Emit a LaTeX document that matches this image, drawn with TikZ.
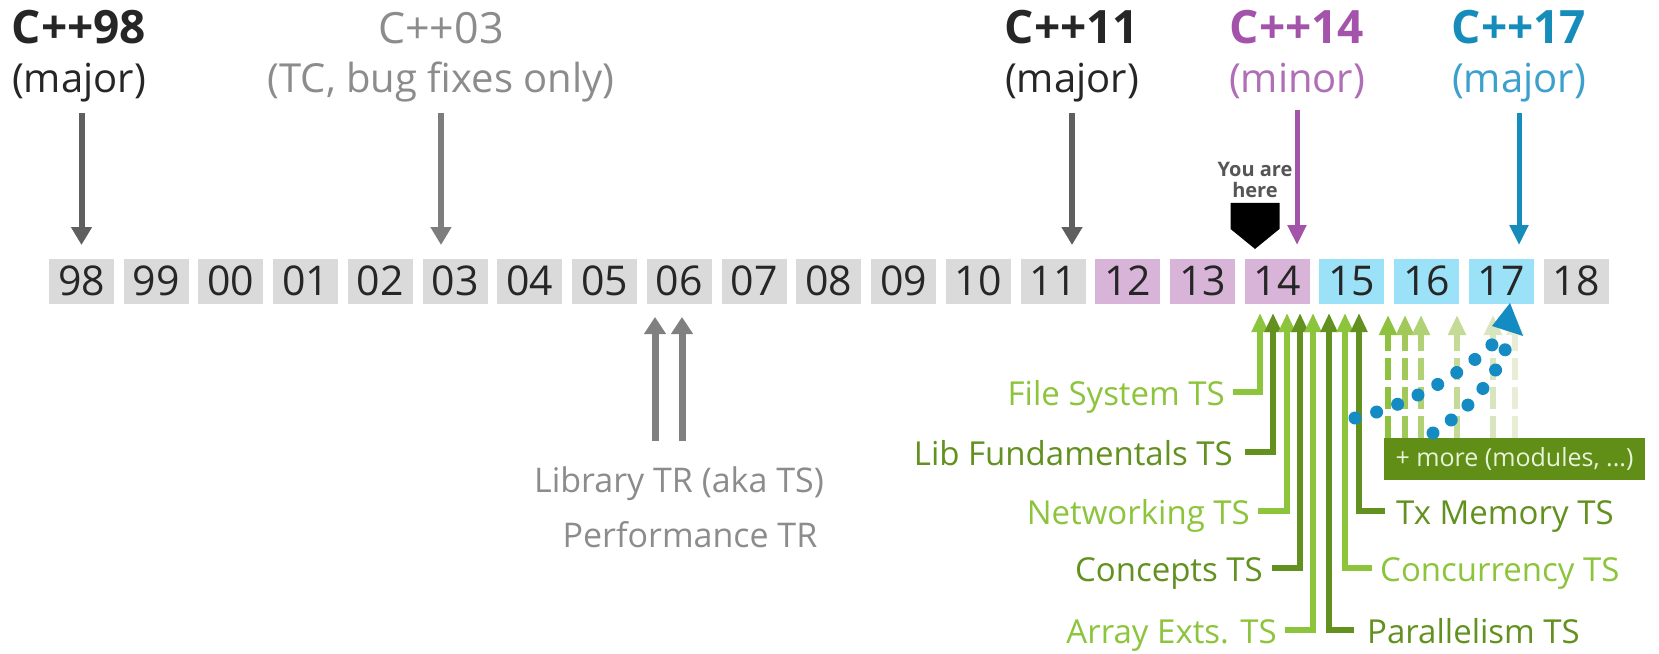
\documentclass[tikz,border=0pt]{standalone}
\usepackage{fontspec}
\setmainfont{Open Sans}
\usetikzlibrary{arrows.meta,decorations.markings}

\definecolor{yrgray}{RGB}{218,218,218}
\definecolor{yrpurple}{RGB}{216,181,216}
\definecolor{yrblue}{RGB}{155,225,248}
\definecolor{inkdark}{RGB}{38,38,38}
\definecolor{inkgray}{RGB}{140,140,140}
\definecolor{arrdark}{RGB}{95,95,95}
\definecolor{arrlight}{RGB}{125,125,125}
\definecolor{trgray}{RGB}{128,128,128}
\definecolor{cxxpurple}{RGB}{163,84,170}
\definecolor{cxxpurplelt}{RGB}{175,110,182}
\definecolor{cxxteal}{RGB}{22,140,186}
\definecolor{cxxteallt}{RGB}{60,160,205}
\definecolor{tslight}{RGB}{140,196,60}
\definecolor{tsdark}{RGB}{98,145,32}
\definecolor{morebg}{RGB}{96,142,22}
\definecolor{moretext}{RGB}{232,243,218}
\definecolor{dotblue}{RGB}{20,140,195}
\definecolor{fade1}{RGB}{142,193,62}
\definecolor{fade2}{RGB}{160,201,90}
\definecolor{fade3}{RGB}{176,209,116}
\definecolor{fade4}{RGB}{196,219,152}
\definecolor{fade5}{RGB}{216,229,190}
\definecolor{fade6}{RGB}{232,238,214}
\definecolor{markgray}{RGB}{85,85,85}

\tikzset{
  yearbox/.style={minimum width=65pt, minimum height=45pt, inner sep=0pt,
    font=\fontsize{41pt}{43pt}\selectfont, text=inkdark},
  reltitle/.style={anchor=base, inner sep=0pt, font=\fontsize{46pt}{46pt}\selectfont\bfseries},
  reltitlelight/.style={anchor=base, inner sep=0pt, font=\fontsize{43pt}{43pt}\selectfont},
  relnote/.style={anchor=base, inner sep=0pt, font=\fontsize{40pt}{40pt}\selectfont},
  relarrow/.style={line width=6pt, shorten <=11pt, -{Triangle[width=20pt,length=18pt]}},
  relarrowthin/.style={line width=5pt, shorten <=11pt, -{Triangle[width=18pt,length=20pt]}},
  trlabel/.style={anchor=base, inner sep=0pt, text=inkgray, font=\fontsize{34pt}{34pt}\selectfont},
  trarrow/.style={trgray, line width=7pt, shorten <=25pt, -{Triangle[width=21pt,length=17pt]}},
  tslabel/.style={inner sep=0pt, text height=26pt, text depth=0pt, font=\fontsize{33pt}{33pt}\selectfont},
  tsarrow/.style={line width=5.5pt, -{Triangle[width=16pt,length=19pt]}},
  futurearrow/.style={line width=6pt, dash pattern=on 22pt off 7pt, -{Triangle[width=17pt,length=20pt]}},
  dotline/.style={decorate, decoration={markings,
      mark=between positions 0 and 1 step 22.4pt with {\fill[dotblue] (0,0) circle (6.5pt);}}},
}

\begin{document}
\begin{tikzpicture}[x=1pt,y=-1pt]
\useasboundingbox (0,0) rectangle (1659,653);
\fill[white] (0,0) rectangle (1659,653);

% year strip
\foreach \yr/\col [count=\i from 0] in {98/yrgray,99/yrgray,00/yrgray,01/yrgray,02/yrgray,03/yrgray,04/yrgray,05/yrgray,06/yrgray,07/yrgray,08/yrgray,09/yrgray,10/yrgray,11/yrgray,12/yrpurple,13/yrpurple,14/yrpurple,15/yrblue,16/yrblue,17/yrblue,18/yrgray}
  \node[yearbox, fill=\col] (b\yr) at (81.5+74.73*\i, 281) {\yr};

\coordinate (tipline) at (0,245);

% standard releases
\node[reltitle, text=inkdark] (t98) at (79,43) {C++98};
\node[relnote, text=inkdark] (n98) at (79,92) {(major)};
\draw[relarrow, arrdark] (n98.south -| b98) -- (b98 |- tipline);

\node[reltitlelight, text=inkgray] (t03) at (441,43) {C++03};
\node[relnote, text=inkgray] (n03) at (441,92) {(TC, bug fixes only)};
\draw[relarrow, arrlight] (n03.south) -- (n03.south |- tipline);

\node[reltitle, text=inkdark] (t11) at (1072,43) {C++11};
\node[relnote, text=inkdark] (n11) at (1072,92) {(major)};
\draw[relarrow, arrdark] (n11.south) -- (n11.south |- tipline);

\node[reltitle, text=cxxpurple] (t14) at (1297,43) {C++14};
\node[relnote, text=cxxpurplelt] (n14) at (1297,92) {(minor)};
\draw[relarrowthin, cxxpurple] (n14.south) -- (n14.south |- tipline);

\node[reltitle, text=cxxteal] (t17) at (1519,43) {C++17};
\node[relnote, text=cxxteallt] (n17) at (1519,92) {(major)};
\draw[relarrowthin, cxxteal] (n17.south) -- (n17.south |- tipline);

% current position marker
\node[font=\fontsize{20pt}{21pt}\selectfont\bfseries, text=markgray, align=center, inner sep=0pt] (here) at (1255,180) {You are\\here};
\fill[black] (here.south) ++(-24.5,5) -- ++(49,0) -- ++(0,26) -- ++(-24.5,20) -- ++(-24.5,-20) -- cycle;

% technical reports
\node[trlabel] (lib) at (679,492) {Library TR (aka TS)};
\node[trlabel] (perf) at (690,547) {Performance TR};
\coordinate (tr1) at (655,317);
\coordinate (tr2) at (682,317);
\draw[trarrow] (lib.north -| tr1) -- (tr1);
\draw[trarrow] (lib.north -| tr2) -- (tr2);

% technical specifications
\node[tslabel, anchor=east, text=tslight] (fs) at (1225,392) {File System TS};
\node[tslabel, anchor=east, text=tsdark] (lf) at (1233,452) {Lib Fundamentals TS};
\node[tslabel, anchor=east, text=tslight] (nw) at (1250,511) {Networking TS};
\node[tslabel, anchor=east, text=tsdark] (co) at (1263,568) {Concepts TS};
\node[tslabel, anchor=east, text=tslight] (ae) at (1277,630) {Array Exts. TS};
\node[tslabel, anchor=west, text=tsdark] (pa) at (1367,630) {Parallelism TS};
\node[tslabel, anchor=west, text=tslight] (cc) at (1380,568) {Concurrency TS};
\node[tslabel, anchor=west, text=tsdark] (tx) at (1396,511) {Tx Memory TS};

\coordinate (g1) at (1260,313);
\coordinate (g2) at (1273,313);
\coordinate (g3) at (1287,313);
\coordinate (g4) at (1300,313);
\coordinate (g5) at (1313,313);
\coordinate (g6) at (1329,313);
\coordinate (g7) at (1345,313);
\coordinate (g8) at (1359,313);

\draw[tsarrow, tslight] ([xshift=8pt]fs.east) -| (g1);
\draw[tsarrow, tsdark] ([xshift=12pt]lf.east) -| (g2);
\draw[tsarrow, tslight] ([xshift=8pt]nw.east) -| (g3);
\draw[tsarrow, tsdark] ([xshift=9pt]co.east) -| (g4);
\draw[tsarrow, tslight] ([xshift=8pt]ae.east) -| (g5);
\draw[tsarrow, tsdark] ([xshift=-13pt]pa.west) -| (g6);
\draw[tsarrow, tslight] ([xshift=-8pt]cc.west) -| (g7);
\draw[tsarrow, tsdark] ([xshift=-11pt]tx.west) -| (g8);

% upcoming work
\node[fill=morebg, text=moretext, minimum width=261pt, minimum height=42pt, inner sep=0pt,
  font=\fontsize{25pt}{25pt}\selectfont] (more) at (1514.5,459) {+ more (modules, ...)};
\foreach \x/\c [count=\k] in {1388/fade1,1405/fade2,1421/fade3,1457/fade4,1493/fade5,1515/fade6} {
  \coordinate (f\k) at (\x,315);
  \draw[futurearrow, \c] (more.north -| f\k) -- (f\k);
}

% the road to C++17
\coordinate (dA) at (1355,418);
\coordinate (dB) at (1433,433);
\coordinate (eA) at (1500,337);
\coordinate (eB) at (1509,336);
\path[dotline] (dA) .. controls (1400,408) and (1460,378) .. (eA);
\path[dotline] (dB) .. controls (1460,416) and (1500,380) .. (eB);
\fill[dotblue] (1510,303) -- (1492,326) -- (1523,336) -- cycle;
\end{tikzpicture}
\end{document}
